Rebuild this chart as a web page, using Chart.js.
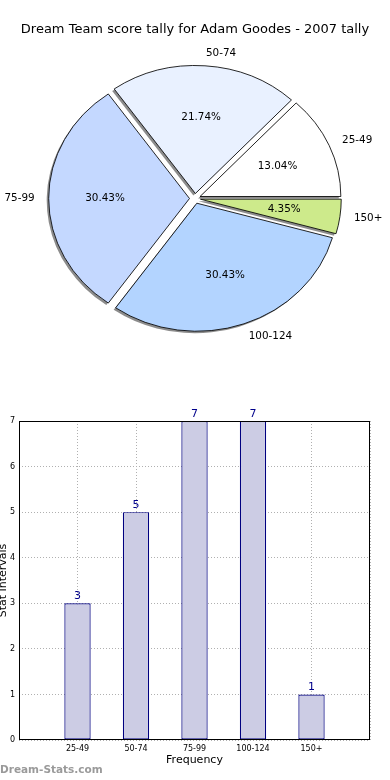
<!DOCTYPE html>
<html>
<head>
<meta charset="utf-8">
<script src="https://cdn.jsdelivr.net/npm/chart.js@4"></script>
<style>
  html, body { margin: 0; padding: 0; background: #fff; }
  #wrap { position: relative; width: 390px; height: 780px; overflow: hidden; }
  #pie-wrap { position: absolute; left: 0; top: 0; width: 390px; height: 390px; }
  #bar-wrap { position: absolute; left: 0; top: 390px; width: 390px; height: 390px; }
</style>
</head>
<body>
<div id="wrap">
  <div id="pie-wrap"><canvas id="chartPie"></canvas></div>
  <div id="bar-wrap"><canvas id="chartBar"></canvas></div>
</div>
<script>
// data
const categories = ['25-49', '50-74', '75-99', '100-124', '150+'];
const counts = [3, 5, 7, 7, 1];
const sliceColors = ['#ffffff', '#e9f1ff', '#c4d8ff', '#b3d4ff', '#cdea8b'];
const yTicks = [0, 1, 2, 3, 4, 5, 6, 7];

const titleText = 'Dream Team score tally for Adam Goodes - 2007 tally';
const total = counts.reduce((a, b) => a + b, 0);

Chart.defaults.font.family = '"DejaVu Sans", sans-serif';
Chart.defaults.color = '#000';
Chart.defaults.animation = false;

// matplotlib draws the pie counterclockwise from 3 o'clock,
// chart.js goes clockwise -> feed it reversed
const pieLabels = categories.slice().reverse();
const pieData = counts.slice().reverse();
const pieColors = sliceColors.slice().reverse();

const stretchX = 1.1;  // pie is slightly elliptical in the reference
const explodePx = 5;   // every wedge pulled out a bit
const shadowDx = -2, shadowDy = 2;

const pieExtras = {
  id: 'pieExtras',
  beforeDatasetsDraw(chart) {
    const ctx = chart.ctx;
    const arcs = chart.getDatasetMeta(0).data;
    const cx = arcs[0].x, cy = arcs[0].y;
    ctx.save();
    ctx.translate(cx, cy);
    ctx.scale(stretchX, 1);
    ctx.translate(-cx, -cy);
    // explode: move each wedge along its middle angle
    arcs.forEach(arc => {
      const mid = (arc.startAngle + arc.endAngle) / 2;
      arc._home = { x: arc.x, y: arc.y };
      arc.x += explodePx * Math.cos(mid);
      arc.y += explodePx * Math.sin(mid);
    });
    // grey shadows under the wedges
    ctx.fillStyle = 'rgba(0,0,0,0.45)';
    arcs.forEach(arc => {
      ctx.beginPath();
      const sx = arc.x + shadowDx / stretchX, sy = arc.y + shadowDy;
      ctx.moveTo(sx, sy);
      ctx.arc(sx, sy, arc.outerRadius, arc.startAngle, arc.endAngle);
      ctx.closePath();
      ctx.fill();
    });
  },
  afterDatasetsDraw(chart) {
    const ctx = chart.ctx;
    ctx.restore();
    const arcs = chart.getDatasetMeta(0).data;
    arcs.forEach(arc => { arc.x = arc._home.x; arc.y = arc._home.y; });
    ctx.save();
    ctx.font = '10.4px "DejaVu Sans", sans-serif';
    ctx.fillStyle = '#000';
    ctx.textBaseline = 'middle';
    arcs.forEach((arc, i) => {
      const mid = (arc.startAngle + arc.endAngle) / 2;
      const r = arc.outerRadius;
      const c = Math.cos(mid), s = Math.sin(mid);
      // category label outside
      const lr = 1.1 * r + explodePx;
      ctx.textAlign = c >= 0 ? 'left' : 'right';
      ctx.fillText(pieLabels[i], arc.x + stretchX * lr * c, arc.y + lr * s);
      // percentage inside
      const pr = 0.6 * r + explodePx;
      ctx.textAlign = 'center';
      const pct = (pieData[i] / total * 100).toFixed(2) + '%';
      ctx.fillText(pct, arc.x + stretchX * pr * c, arc.y + pr * s);
    });
    ctx.restore();
  }
};

new Chart(document.getElementById('chartPie'), {
  type: 'pie',
  data: {
    labels: pieLabels,
    datasets: [{
      data: pieData,
      backgroundColor: pieColors,
      borderColor: '#000',
      borderWidth: 0.8,
      radius: 128
    }]
  },
  options: {
    responsive: true,
    maintainAspectRatio: false,
    events: [],
    rotation: 90,
    layout: { padding: { top: 0, bottom: 30.6, left: 0, right: 0 } },
    plugins: {
      legend: { display: false },
      tooltip: { enabled: false },
      title: {
        display: true,
        text: titleText,
        color: '#000',
        font: { size: 13, weight: 'normal' },
        padding: { top: 22, bottom: 0 }
      }
    }
  },
  plugins: [pieExtras]
});

// bar chart: matplotlib put the bars at x=1..5 on a 0..6 axis
const barLabels = [''].concat(categories, ['']);
const barData = [null].concat(counts, [null]);

const barExtras = {
  id: 'barExtras',
  afterDatasetsDraw(chart) {
    const ctx = chart.ctx;
    const meta = chart.getDatasetMeta(0);
    ctx.save();
    ctx.font = '11px "DejaVu Sans", sans-serif';
    ctx.fillStyle = '#00008b';
    ctx.textAlign = 'center';
    ctx.textBaseline = 'alphabetic';
    meta.data.forEach((bar, i) => {
      if (barData[i] == null) return;
      ctx.fillText(String(barData[i]), bar.x, bar.y - 4);
    });
    ctx.restore();
  },
  afterDraw(chart) {
    const ctx = chart.ctx;
    const a = chart.chartArea;
    ctx.save();
    ctx.strokeStyle = '#000';
    ctx.lineWidth = 1;
    ctx.strokeRect(Math.round(a.left) + 0.5, Math.round(a.top) + 0.5,
      Math.round(a.right - a.left) - 1, Math.round(a.bottom - a.top) - 1);
    // site watermark
    ctx.font = 'bold 10.5px "DejaVu Sans", sans-serif';
    ctx.fillStyle = '#9a9a9a';
    ctx.textAlign = 'left';
    ctx.textBaseline = 'middle';
    ctx.fillText('Dream-Stats.com', 0, chart.height - 10);
    ctx.restore();
  }
};

new Chart(document.getElementById('chartBar'), {
  type: 'bar',
  data: {
    labels: barLabels,
    datasets: [{
      data: barData,
      backgroundColor: '#ccccE4',
      borderColor: '#000080',
      borderWidth: 1.2,
      borderSkipped: false,
      barPercentage: 0.45,
      categoryPercentage: 1
    }]
  },
  options: {
    responsive: true,
    maintainAspectRatio: false,
    events: [],
    layout: { padding: { top: 31, right: 20, left: 0, bottom: 0 } },
    plugins: {
      legend: { display: false },
      tooltip: { enabled: false }
    },
    scales: {
      x: {
        type: 'category',
        offset: false,
        z: 1,
        grid: { offset: false, color: '#b0b0b0', lineWidth: 1, drawTicks: false },
        border: { display: false, dash: [1, 2] },
        ticks: { font: { size: 8 }, padding: 4, maxRotation: 0, autoSkip: false },
        title: {
          display: true,
          text: 'Frequency',
          font: { size: 11 },
          padding: { top: 0, bottom: 13.4 }
        },
        afterFit(s) { s.height = 40; }
      },
      y: {
        min: 0,
        max: yTicks[yTicks.length - 1],
        z: 1,
        afterBuildTicks(s) { s.ticks = yTicks.map(v => ({ value: v })); },
        grid: { color: '#b0b0b0', lineWidth: 1, drawTicks: false },
        border: { display: false, dash: [1, 2] },
        ticks: { font: { size: 8 }, padding: 4 },
        title: {
          display: true,
          text: 'Stat Intervals',
          font: { size: 11 },
          padding: { top: -3.5, bottom: 0 }
        },
        afterFit(s) { s.width = 19; }
      }
    }
  },
  plugins: [barExtras]
});
</script>
</body>
</html>
